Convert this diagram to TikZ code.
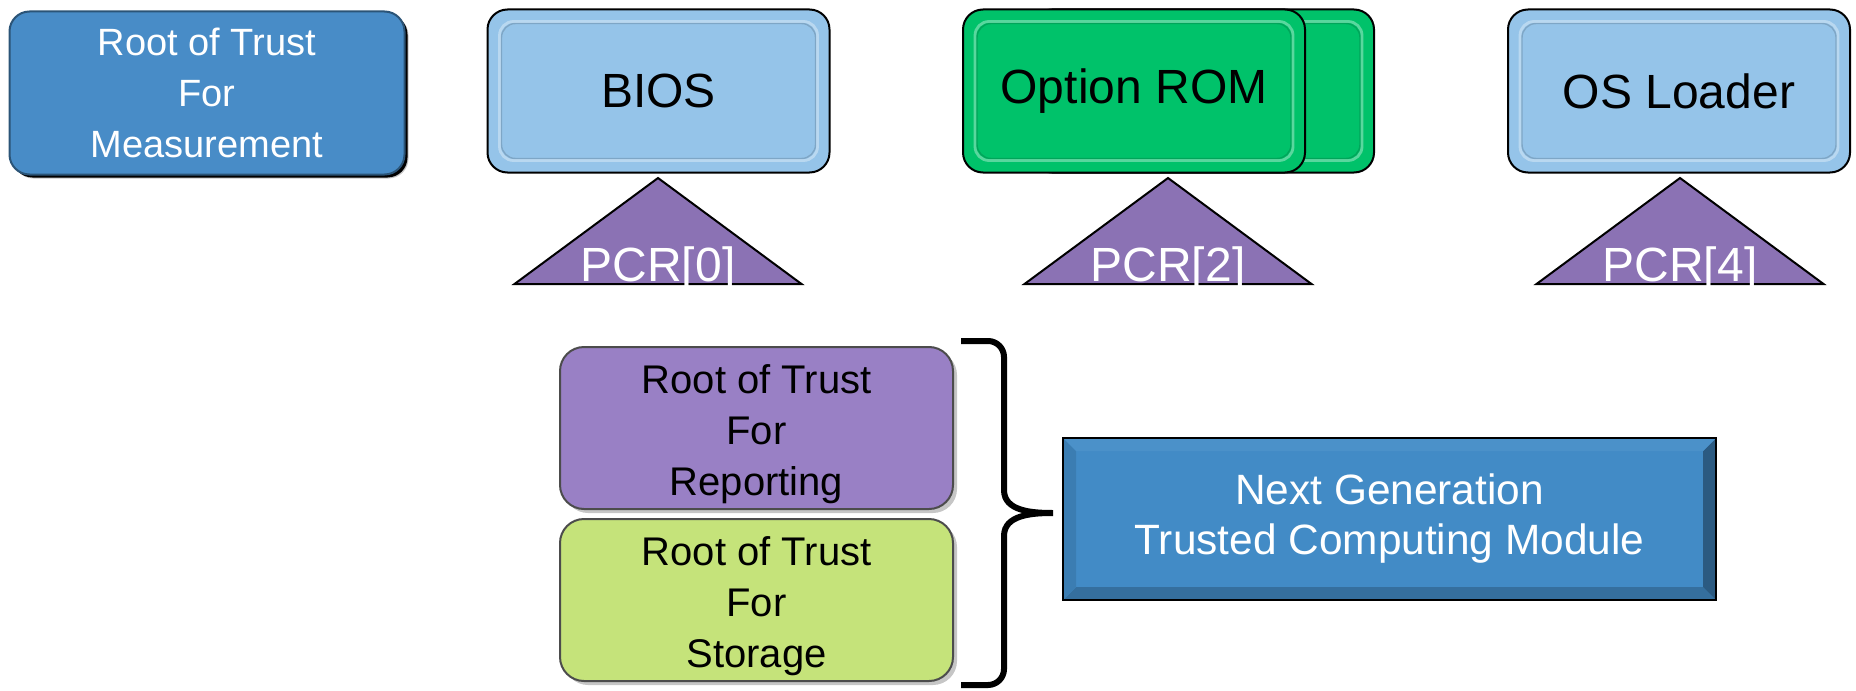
\documentclass[tikz,border=0pt]{standalone}
\usepackage{fontspec}
\setmainfont{Liberation Sans}
\usetikzlibrary{calc,shadows,positioning}

\definecolor{rtmblue}{RGB}{72,140,199}
\definecolor{lightblue}{RGB}{149,196,233}
\definecolor{romgreen}{RGB}{0,194,106}
\definecolor{pcrpurple}{RGB}{139,114,180}
\definecolor{rtrpurple}{RGB}{153,128,197}
\definecolor{rtslime}{RGB}{197,227,122}
\definecolor{tcmblue}{RGB}{66,139,198}

\begin{document}
\begin{tikzpicture}
    [x=0.5pt, y=-0.5pt,
    stage/.style={
        draw=black,
        line width=1pt,
        rounded corners=10pt,
        align=center,
        inner sep=0pt,
        minimum width=171pt,
        minimum height=81.5pt,
        font=\fontsize{24}{28}\selectfont
    },
    bevelled/.style={
        path picture={
            \draw[white, opacity=.35, line width=1.4pt, rounded corners=7pt]
                ([shift={(6pt,-6pt)}]path picture bounding box.north west) rectangle
                ([shift={(-6pt,6pt)}]path picture bounding box.south east);
            \draw[black, opacity=.15, line width=.7pt, rounded corners=7pt]
                ([shift={(7pt,-7pt)}]path picture bounding box.north west) rectangle
                ([shift={(-7pt,7pt)}]path picture bounding box.south east);
        }
    },
    bluestage/.style={stage, bevelled, fill=lightblue},
    greenstage/.style={stage, bevelled, fill=romgreen},
    root/.style={
        draw=black!70,
        line width=1pt,
        rounded corners=12pt,
        align=center,
        inner sep=0pt,
        minimum width=196.5pt,
        minimum height=81pt,
        font=\fontsize{20}{25.5}\selectfont,
        drop shadow={shadow xshift=2pt, shadow yshift=-2pt, opacity=.45}
    },
    rtmbox/.style={root, draw=rtmblue!60!black, fill=rtmblue, text=white,
        minimum width=197.5pt, minimum height=81.5pt, rounded corners=10pt,
        font=\fontsize{19}{25.5}\selectfont,
        drop shadow={shadow xshift=1.5pt, shadow yshift=-1.5pt, opacity=1, fill=black}},
    pcrtri/.style={draw=black, line width=1pt, fill=pcrpurple},
    pcrlabel/.style={anchor=base, inner sep=0pt, text=white, font=\fontsize{24}{28}\selectfont},
    bracket/.style={draw=black, line width=3pt},
    tcm/.style={
        draw=black,
        line width=1pt,
        fill=tcmblue,
        text=white,
        align=center,
        minimum width=326.5pt,
        minimum height=81pt,
        font=\fontsize{21.2}{25}\selectfont,
        path picture={
            \coordinate (nw) at (path picture bounding box.north west);
            \coordinate (ne) at (path picture bounding box.north east);
            \coordinate (sw) at (path picture bounding box.south west);
            \coordinate (se) at (path picture bounding box.south east);
            \fill[tcmblue!80!black] (sw) -- (se) -- ([shift={(-6.5pt,6.5pt)}]se) -- ([shift={(6.5pt,6.5pt)}]sw) -- cycle;
            \fill[tcmblue!65!black] (se) -- (ne) -- ([shift={(-6.5pt,-6.5pt)}]ne) -- ([shift={(-6.5pt,6.5pt)}]se) -- cycle;
            \fill[tcmblue!90!black] (nw) -- (sw) -- ([shift={(6.5pt,6.5pt)}]sw) -- ([shift={(6.5pt,-6.5pt)}]nw) -- cycle;
            \fill[tcmblue!95!white] (nw) -- (ne) -- ([shift={(-6.5pt,-6.5pt)}]ne) -- ([shift={(6.5pt,-6.5pt)}]nw) -- cycle;
        }
    }
    ]

    \useasboundingbox (0,0) rectangle (1856,690);

    % Messkette oben
    \node[rtmbox] (rtm) at (207,93) {Root of Trust\\For\\Measurement};
    \node[bluestage] (bios) at (658.5,91) {BIOS};
    \node[greenstage] (optromback) at (1203,91) {};
    \node[greenstage] (optrom) at (1134,91) {Option ROM};
    \node[bluestage] (osloader) at (1679,91) {OS Loader};

    % PCR-Dreiecke
    \foreach \x/\n in {658/0, 1168/2, 1680/4}{
        \draw[pcrtri] (\x,178) -- (\x-143.5,284) -- (\x+143.5,284) -- cycle;
        \node[pcrlabel] (pcr\n) at (\x,281) {PCR[\n]};
    }

    % Wurzeln im Modul (Text etwas tiefer)
    \node[root, fill=rtrpurple] (rtr) at (756.5,428) {\rule{0pt}{21pt}Root of Trust\\For\\Reporting};
    \node[root, fill=rtslime, below=4pt of rtr] (rts) {\rule{0pt}{21pt}Root of Trust\\For\\Storage};
    \node[tcm] (ngtcm) at (1389.5,519) {Next Generation\\Trusted Computing Module};

    % Klammer
    \coordinate (btop) at (961,341);
    \coordinate (bbot) at (961,685);
    \coordinate (btip) at (1053,513);
    \draw[bracket] (btop) -- (988,341) to[out=0,in=90] (1004,357) -- (1004,490)
        to[out=-90,in=180] (btip) to[out=180,in=90] (1004,536) -- (1004,669)
        to[out=-90,in=0] (988,685) -- (bbot);
\end{tikzpicture}
\end{document}
